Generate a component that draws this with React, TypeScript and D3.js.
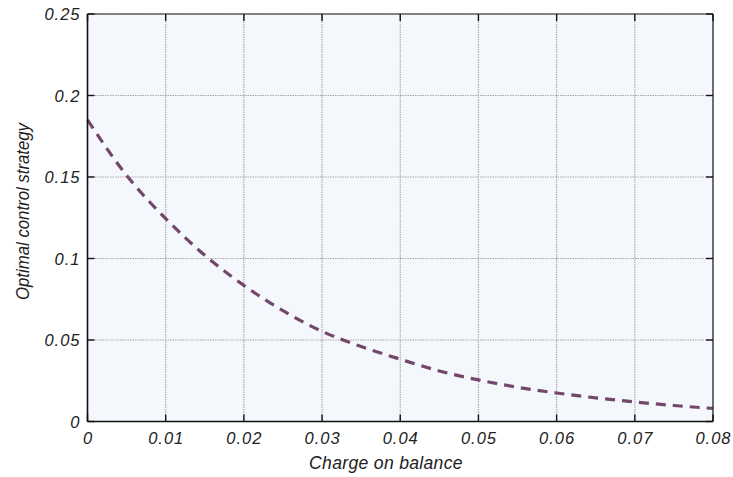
import React from "react";
import * as d3 from "d3";

const chargeValues = [0, 0.005, 0.01, 0.015, 0.02, 0.025, 0.03, 0.035, 0.04, 0.045, 0.05, 0.055, 0.06, 0.065, 0.07, 0.075, 0.08];
const controlValues = [0.185, 0.151, 0.1245, 0.102, 0.0835, 0.068, 0.0553, 0.046, 0.0382, 0.031, 0.0255, 0.021, 0.0175, 0.0145, 0.012, 0.0098, 0.008];
const xTicks = [0, 0.01, 0.02, 0.03, 0.04, 0.05, 0.06, 0.07, 0.08];
const xTickLabels = ["0", "0.01", "0.02", "0.03", "0.04", "0.05", "0.06", "0.07", "0.08"];
const yTicks = [0, 0.05, 0.1, 0.15, 0.2, 0.25];
const yTickLabels = ["0", "0.05", "0.1", "0.15", "0.2", "0.25"];

const W = 733, H = 477;
const L = 87.5, R = 713, T = 14, B = 421.5;

export default function App() {
  const x = d3.scaleLinear().domain([0, 0.08]).range([L, R]);
  const y = d3.scaleLinear().domain([0, 0.25]).range([B, T]);
  const pts = chargeValues.map((c, i) => [c, controlValues[i]] as [number, number]);
  const line = d3.line<[number, number]>().x(d => x(d[0])).y(d => y(d[1])).curve(d3.curveMonotoneX);
  const font = "'Liberation Sans', Arial, sans-serif";
  return (
    <svg width={W} height={H} style={{ position: "absolute", left: 0, top: 0 }}>
      <rect x={0} y={0} width={W} height={H} fill="#fff" />
      <rect x={L} y={T} width={R - L} height={B - T} fill="#f4f8fd" />
      {xTicks.map((t, i) => (
        <line key={"gx" + i} x1={x(t)} x2={x(t)} y1={T} y2={B} stroke="#a8a8a8" strokeWidth={1.2} strokeDasharray="1.5,1" />
      ))}
      {yTicks.map((t, i) => (
        <line key={"gy" + i} x1={L} x2={R} y1={y(t)} y2={y(t)} stroke="#a8a8a8" strokeWidth={1.2} strokeDasharray="1.5,1" />
      ))}
      <path d={line(pts) || ""} fill="none" stroke="#72476b" strokeWidth={3.2} strokeDasharray="10,7" />
      <line x1={L} x2={R} y1={T} y2={T} stroke="#222" strokeWidth={1.2} />
      <line x1={R} x2={R} y1={T} y2={B} stroke="#222" strokeWidth={1.2} />
      <line x1={L} x2={L} y1={T} y2={B} stroke="#111" strokeWidth={1.6} />
      <line x1={L} x2={R} y1={B} y2={B} stroke="#111" strokeWidth={1.6} />
      {xTicks.map((t, i) => (
        <g key={"tx" + i}>
          <line x1={x(t)} x2={x(t)} y1={B} y2={B - 7} stroke="#111" strokeWidth={1.4} />
          <line x1={x(t)} x2={x(t)} y1={T} y2={T + 7} stroke="#111" strokeWidth={1.4} />
          <text x={x(t) + 0.5} y={444} textAnchor="middle" fontFamily={font} fontStyle="italic" fontSize={16.5} letterSpacing={1} fill="#222">{xTickLabels[i]}</text>
        </g>
      ))}
      {yTicks.map((t, i) => (
        <g key={"ty" + i}>
          <line x1={L} x2={L + 7} y1={y(t)} y2={y(t)} stroke="#111" strokeWidth={1.4} />
          <line x1={R} x2={R - 7} y1={y(t)} y2={y(t)} stroke="#111" strokeWidth={1.4} />
          <text x={80.5} y={y(t) + 6} textAnchor="end" fontFamily={font} fontStyle="italic" fontSize={16.5} letterSpacing={1} fill="#222">{yTickLabels[i]}</text>
        </g>
      ))}
      <text x={386} y={469} textAnchor="middle" fontFamily={font} fontStyle="italic" fontSize={17.6} letterSpacing={0.3} fill="#222">Charge on balance</text>
      <text transform="translate(29,211.5) rotate(-90)" textAnchor="middle" fontFamily={font} fontStyle="italic" fontSize={18} textLength={177} lengthAdjust="spacingAndGlyphs" fill="#222">Optimal control strategy</text>
    </svg>
  );
}
